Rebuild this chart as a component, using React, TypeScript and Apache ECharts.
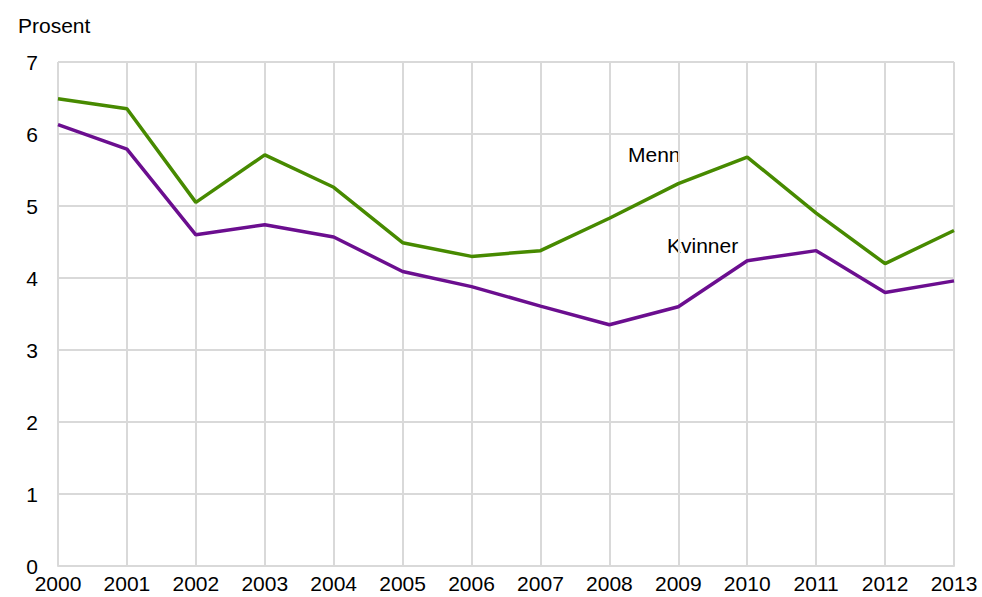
import React, { useEffect, useRef } from "react";
import * as echarts from "echarts";

const years = ["2000","2001","2002","2003","2004","2005","2006","2007","2008","2009","2010","2011","2012","2013"];
const menn = [6.49, 6.35, 5.05, 5.71, 5.26, 4.49, 4.30, 4.38, 4.83, 5.31, 5.68, 4.90, 4.20, 4.66];
const kvinner = [6.13, 5.79, 4.60, 4.74, 4.57, 4.09, 3.88, 3.61, 3.35, 3.60, 4.24, 4.38, 3.80, 3.96];
const yTicks = [0, 1, 2, 3, 4, 5, 6, 7];

const FONT = "'Liberation Sans', Arial, sans-serif";

export default function App() {
  const ref = useRef<HTMLDivElement>(null);
  useEffect(() => {
    if (!ref.current) return;
    const chart = echarts.init(ref.current, undefined, { renderer: "svg" });
    chart.setOption({
      animation: false,
      backgroundColor: "#ffffff",
      textStyle: { fontFamily: FONT },
      grid: { left: 58, right: 28, top: 62, bottom: 31, containLabel: false },
      xAxis: {
        type: "category",
        data: years,
        boundaryGap: false,
        axisLine: { show: true, lineStyle: { color: "#d9d9d9", width: 2 } },
        axisTick: { show: false },
        splitLine: { show: true, lineStyle: { color: "#d9d9d9", width: 2 } },
        axisLabel: { color: "#000", fontSize: 21, fontFamily: FONT, margin: 7, interval: 0 },
      },
      yAxis: {
        type: "value",
        min: yTicks[0],
        max: yTicks[yTicks.length - 1],
        interval: 1,
        axisLine: { show: false },
        axisTick: { show: false },
        splitLine: { show: true, lineStyle: { color: "#d9d9d9", width: 2 } },
        axisLabel: { color: "#000", fontSize: 21, fontFamily: FONT, margin: 20 },
      },
      series: [
        {
          name: "Menn",
          type: "line",
          data: menn,
          symbol: "none",
          lineStyle: { color: "#478a00", width: 3.5 },
          itemStyle: { color: "#478a00" },
        },
        {
          name: "Kvinner",
          type: "line",
          data: kvinner,
          symbol: "none",
          lineStyle: { color: "#6b0e8f", width: 3.5 },
          itemStyle: { color: "#6b0e8f" },
        },
      ],
      graphic: [
        {
          type: "text",
          left: 18,
          top: 15,
          style: { text: "Prosent", fill: "#000", fontSize: 21, fontFamily: FONT },
        },
        {
          type: "text",
          left: 626,
          top: 143,
          style: {
            text: "Menn",
            fill: "#000",
            fontSize: 21,
            fontFamily: FONT,
            backgroundColor: "#ffffff",
            padding: [1, 2],
          },
        },
        {
          type: "text",
          left: 665,
          top: 234,
          style: {
            text: "Kvinner",
            fill: "#000",
            fontSize: 21,
            fontFamily: FONT,
            backgroundColor: "#ffffff",
            padding: [1, 2],
          },
        },
      ],
    });
    return () => chart.dispose();
  }, []);
  return (
    <div
      ref={ref}
      style={{ position: "fixed", left: 0, top: 0, width: 982, height: 597 }}
    />
  );
}
